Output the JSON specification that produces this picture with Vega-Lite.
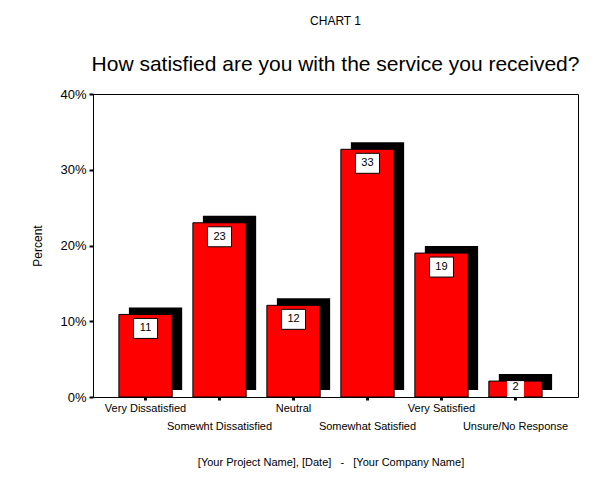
{
  "$schema": "https://vega.github.io/schema/vega-lite/v6.json",
  "width": 485,
  "height": 303,
  "autosize": {"type": "none"},
  "padding": {"left": 93, "top": 94, "right": 22, "bottom": 83},
  "background": "white",
  "title": {
    "text": "CHART 1",
    "subtitle": "How satisfied are you with the service you received?",
    "anchor": "middle",
    "font": "Liberation Sans",
    "fontSize": 12,
    "fontWeight": "normal",
    "color": "black",
    "subtitleFont": "Liberation Sans",
    "subtitleFontSize": 21,
    "subtitleColor": "black",
    "subtitlePadding": 26,
    "offset": 12
  },
  "config": {
    "view": {"stroke": "black", "strokeWidth": 1},
    "font": "Liberation Sans"
  },
  "data": {
    "values": [
      {"answer": "Very Dissatisfied", "pct": 10.9},
      {"answer": "Somewht Dissatisfied", "pct": 23.0},
      {"answer": "Neutral", "pct": 12.1},
      {"answer": "Somewhat Satisfied", "pct": 32.7},
      {"answer": "Very Satisfied", "pct": 19.0},
      {"answer": "Unsure/No Response", "pct": 2.1}
    ]
  },
  "encoding": {
    "x": {
      "field": "answer",
      "type": "nominal",
      "sort": null,
      "scale": {"range": [0, 475], "paddingInner": 0.28, "paddingOuter": 0.35},
      "axis": {
        "title": "[Your Project Name], [Date]\u00a0\u00a0 -\u00a0\u00a0 [Your Company Name]",
        "titleFont": "Liberation Sans",
        "titleFontSize": 11,
        "titleFontWeight": "normal",
        "titleColor": "black",
        "titlePadding": 25,
        "labelAngle": 0,
        "labelFont": "Liberation Sans",
        "labelFontSize": 11,
        "labelColor": "black",
        "labelOverlap": false,
        "labelLimit": 0,
        "labelLineHeight": 18,
        "labelPadding": 2,
        "labelBaseline": "top",
        "labelExpr": "indexof(['Somewht Dissatisfied','Somewhat Satisfied','Unsure/No Response'], datum.value) >= 0 ? ['', datum.value] : datum.value",
        "domainColor": "black",
        "tickColor": "black",
        "tickSize": 3,
        "tickWidth": 3,
        "grid": false
      }
    },
    "y": {
      "field": "pct",
      "type": "quantitative",
      "scale": {"domain": [0, 40], "nice": false},
      "axis": {
        "title": "Percent",
        "titleFont": "Liberation Sans",
        "titleFontSize": 12,
        "titleFontWeight": "normal",
        "titleColor": "black",
        "titlePadding": 15,
        "values": [0, 10, 20, 30, 40],
        "labelExpr": "datum.value + '%'",
        "labelFont": "Liberation Sans",
        "labelFontSize": 13,
        "labelColor": "black",
        "labelPadding": 3,
        "domainColor": "black",
        "tickColor": "black",
        "tickSize": 4,
        "tickWidth": 2,
        "grid": false
      }
    }
  },
  "layer": [
    {
      "mark": {"type": "bar", "color": "black", "xOffset": 10, "yOffset": -7, "y2Offset": -7},
      "encoding": {"y2": {"datum": 0}}
    },
    {
      "mark": {"type": "bar", "fill": "#ff0000", "stroke": "black", "strokeWidth": 1},
      "encoding": {"y2": {"datum": 0}}
    },
    {
      "transform": [{"filter": "datum.pct >= 5"}],
      "mark": {"type": "bar", "fill": "white", "stroke": "black", "strokeWidth": 1, "width": 24, "yOffset": 4, "y2Offset": 24},
      "encoding": {"y2": {"field": "pct"}}
    },
    {
      "transform": [{"filter": "datum.pct >= 5"}],
      "mark": {"type": "text", "dy": 14, "baseline": "middle", "fontSize": 11, "color": "black", "font": "Liberation Sans"},
      "encoding": {"text": {"field": "pct", "type": "quantitative", "format": ".0f"}}
    },
    {
      "transform": [{"filter": "datum.pct < 5"}],
      "mark": {"type": "bar", "fill": "white", "width": 17},
      "encoding": {"y2": {"datum": 0}}
    },
    {
      "transform": [{"filter": "datum.pct < 5"}],
      "mark": {"type": "text", "dy": 6, "baseline": "middle", "fontSize": 11, "color": "black", "font": "Liberation Sans"},
      "encoding": {"text": {"field": "pct", "type": "quantitative", "format": ".0f"}}
    }
  ]
}
